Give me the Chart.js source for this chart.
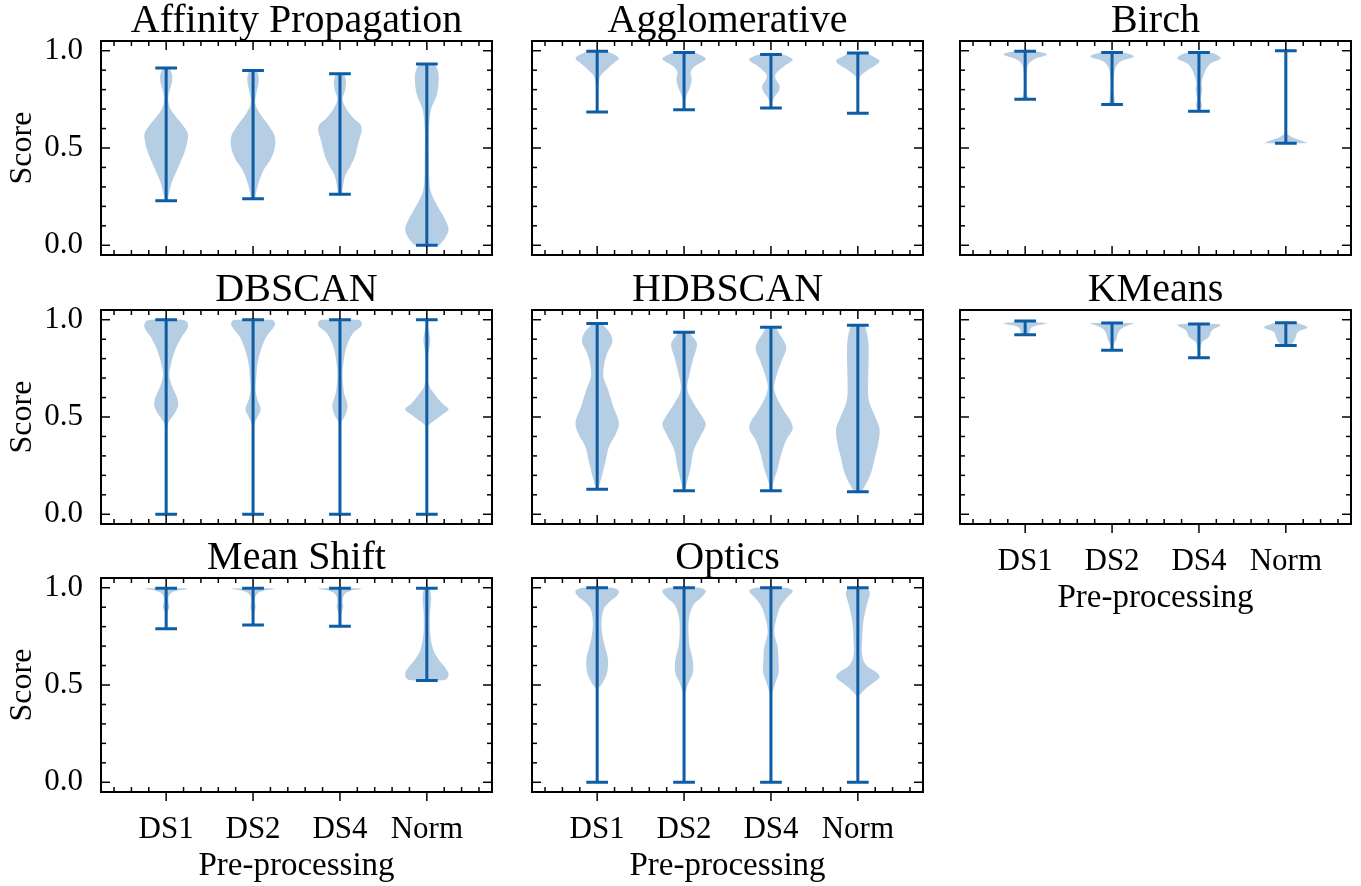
<!DOCTYPE html>
<html>
<head>
<meta charset="utf-8">
<script src="https://cdn.jsdelivr.net/npm/chart.js@4.4.1/dist/chart.umd.min.js"></script>
<style>
  html, body { margin: 0; padding: 0; background: #fff; }
  #fig { position: relative; width: 1361px; height: 886px; overflow: hidden; }
  #fig canvas { position: absolute; }
</style>
</head>
<body>
<div id="fig"></div>
<script>
// categories / ticks
const methods = ['Affinity Propagation', 'Agglomerative', 'Birch', 'DBSCAN', 'HDBSCAN', 'KMeans', 'Mean Shift', 'Optics'];
const categories = ['DS1', 'DS2', 'DS4', 'Norm'];
const positions = [1, 2, 3, 4];
const yTicks = [0, 0.5, 1.0];
const yTickLabels = ['0.0', '0.5', '1.0'];
const yMinorTicks = [0.1, 0.2, 0.3, 0.4, 0.6, 0.7, 0.8, 0.9];
const xMinorTicks = [0.4, 0.6, 0.8, 1.2, 1.4, 1.6, 1.8, 2.2, 2.4, 2.6, 2.8, 3.2, 3.4, 3.6, 3.8, 4.2, 4.4, 4.6];

// per method: whisker min / max, and violin outline as [score, relative width]
const affinityMin = [0.229, 0.239, 0.262, 0.0];
const affinityMax = [0.911, 0.899, 0.882, 0.932];
const affinityShapes = [
  [[0.229, 0.06], [0.26, 0.12], [0.32, 0.25], [0.40, 0.55], [0.48, 0.85], [0.55, 1.0], [0.58, 0.98], [0.62, 0.75], [0.66, 0.45], [0.70, 0.2], [0.74, 0.1], [0.78, 0.12], [0.83, 0.25], [0.87, 0.28], [0.90, 0.2], [0.911, 0.12]],
  [[0.239, 0.08], [0.25, 0.1], [0.32, 0.25], [0.39, 0.5], [0.44, 0.8], [0.50, 1.0], [0.56, 1.0], [0.61, 0.75], [0.68, 0.3], [0.73, 0.1], [0.78, 0.15], [0.83, 0.25], [0.87, 0.25], [0.899, 0.15]],
  [[0.262, 0.08], [0.29, 0.12], [0.36, 0.25], [0.41, 0.5], [0.46, 0.7], [0.53, 0.85], [0.59, 1.0], [0.62, 0.95], [0.65, 0.65], [0.70, 0.3], [0.75, 0.12], [0.79, 0.22], [0.83, 0.28], [0.86, 0.25], [0.882, 0.15]],
  [[0.0, 0.55], [0.03, 0.8], [0.08, 1.0], [0.13, 0.85], [0.2, 0.5], [0.27, 0.2], [0.33, 0.12], [0.45, 0.1], [0.6, 0.1], [0.70, 0.2], [0.77, 0.45], [0.85, 0.55], [0.90, 0.5], [0.932, 0.3]]
];

const agglomMin = [0.685, 0.697, 0.706, 0.679];
const agglomMax = [0.997, 0.991, 0.980, 0.988];
const agglomShapes = [
  [[0.685, 0.03], [0.80, 0.03], [0.84, 0.08], [0.87, 0.15], [0.90, 0.4], [0.93, 0.7], [0.962, 1.0], [0.99, 0.6], [0.997, 0.4]],
  [[0.697, 0.03], [0.75, 0.05], [0.78, 0.15], [0.82, 0.3], [0.86, 0.35], [0.89, 0.3], [0.92, 0.5], [0.957, 1.0], [0.98, 0.7], [0.991, 0.45]],
  [[0.706, 0.04], [0.73, 0.06], [0.76, 0.15], [0.79, 0.35], [0.82, 0.4], [0.86, 0.2], [0.885, 0.25], [0.92, 0.6], [0.954, 1.0], [0.975, 0.7], [0.98, 0.5]],
  [[0.679, 0.02], [0.80, 0.02], [0.84, 0.05], [0.87, 0.12], [0.90, 0.45], [0.945, 1.0], [0.97, 0.7], [0.988, 0.35]]
];

const birchMin = [0.750, 0.723, 0.689, 0.525];
const birchMax = [0.997, 0.991, 0.991, 1.0];
const birchShapes = [
  [[0.75, 0.2], [0.77, 0.1], [0.80, 0.06], [0.85, 0.06], [0.885, 0.07], [0.93, 0.15], [0.955, 0.4], [0.98, 1.0], [0.997, 0.45]],
  [[0.723, 0.15], [0.75, 0.12], [0.80, 0.06], [0.85, 0.08], [0.91, 0.15], [0.945, 0.4], [0.97, 1.0], [0.991, 0.5]],
  [[0.689, 0.05], [0.72, 0.14], [0.75, 0.08], [0.80, 0.15], [0.83, 0.12], [0.885, 0.25], [0.93, 0.5], [0.962, 1.0], [0.991, 0.5]],
  [[0.525, 1.0], [0.535, 0.8], [0.55, 0.4], [0.565, 0.15], [0.58, 0.04], [0.65, 0.01], [1.0, 0.01]]
];

const dbscanMin = [0.0, 0.0, 0.0, 0.0];
const dbscanMax = [1.0, 1.0, 1.0, 1.0];
const dbscanShapes = [
  [[0.0, 0.0], [0.40, 0.0], [0.43, 0.03], [0.47, 0.1], [0.52, 0.4], [0.56, 0.55], [0.60, 0.5], [0.65, 0.3], [0.71, 0.15], [0.76, 0.2], [0.84, 0.4], [0.91, 0.7], [0.96, 1.0], [0.99, 0.95], [1.0, 0.7]],
  [[0.0, 0.0], [0.42, 0.0], [0.46, 0.05], [0.50, 0.2], [0.54, 0.35], [0.59, 0.2], [0.64, 0.12], [0.71, 0.15], [0.77, 0.2], [0.84, 0.35], [0.91, 0.6], [0.97, 1.0], [0.995, 0.95], [1.0, 0.7]],
  [[0.0, 0.0], [0.42, 0.0], [0.47, 0.05], [0.51, 0.25], [0.56, 0.35], [0.62, 0.2], [0.70, 0.12], [0.77, 0.15], [0.86, 0.3], [0.93, 0.6], [0.97, 1.0], [0.995, 0.95], [1.0, 0.7]],
  [[0.0, 0.0], [0.44, 0.0], [0.465, 0.15], [0.49, 0.45], [0.515, 0.75], [0.54, 1.0], [0.565, 0.75], [0.59, 0.55], [0.62, 0.35], [0.65, 0.15], [0.70, 0.04], [0.80, 0.04], [0.86, 0.12], [0.90, 0.16], [0.94, 0.1], [0.97, 0.03], [1.0, 0.02]]
];

const hdbscanMin = [0.128, 0.121, 0.121, 0.116];
const hdbscanMax = [0.980, 0.935, 0.961, 0.971];
const hdbscanShapes = [
  [[0.128, 0.05], [0.14, 0.08], [0.21, 0.25], [0.28, 0.4], [0.35, 0.55], [0.41, 0.85], [0.47, 1.0], [0.55, 0.75], [0.64, 0.5], [0.70, 0.3], [0.755, 0.3], [0.825, 0.45], [0.885, 0.7], [0.93, 0.6], [0.97, 0.3], [0.98, 0.2]],
  [[0.121, 0.05], [0.17, 0.15], [0.24, 0.3], [0.33, 0.45], [0.40, 0.75], [0.46, 1.0], [0.50, 0.85], [0.57, 0.45], [0.64, 0.15], [0.72, 0.25], [0.81, 0.45], [0.875, 0.6], [0.92, 0.35], [0.935, 0.25]],
  [[0.121, 0.05], [0.16, 0.1], [0.23, 0.3], [0.32, 0.5], [0.38, 0.7], [0.45, 1.0], [0.55, 0.5], [0.64, 0.15], [0.71, 0.25], [0.79, 0.5], [0.86, 0.7], [0.945, 0.3], [0.961, 0.2]],
  [[0.116, 0.15], [0.14, 0.3], [0.21, 0.6], [0.30, 0.8], [0.37, 0.95], [0.44, 1.0], [0.50, 0.8], [0.59, 0.5], [0.71, 0.48], [0.81, 0.5], [0.89, 0.48], [0.96, 0.35], [0.971, 0.25]]
];

const kmeansMin = [0.923, 0.843, 0.805, 0.868];
const kmeansMax = [0.993, 0.983, 0.978, 0.985];
const kmeansShapes = [
  [[0.923, 0.15], [0.937, 0.2], [0.954, 0.25], [0.966, 0.4], [0.98, 1.0], [0.988, 0.5], [0.993, 0.3]],
  [[0.843, 0.05], [0.87, 0.08], [0.90, 0.2], [0.937, 0.3], [0.962, 0.55], [0.98, 1.0], [0.983, 0.9]],
  [[0.805, 0.03], [0.84, 0.05], [0.885, 0.15], [0.91, 0.45], [0.945, 0.6], [0.971, 1.0], [0.978, 0.8]],
  [[0.868, 0.2], [0.885, 0.35], [0.91, 0.45], [0.937, 0.55], [0.96, 1.0], [0.98, 0.6], [0.985, 0.4]]
];

const meanShiftMin = [0.789, 0.808, 0.802, 0.523];
const meanShiftMax = [0.997, 0.997, 0.997, 0.997];
const meanShiftShapes = [
  [[0.789, 0.03], [0.87, 0.05], [0.90, 0.15], [0.94, 0.1], [0.97, 0.2], [0.985, 0.5], [0.993, 1.0], [0.997, 0.8]],
  [[0.808, 0.02], [0.86, 0.04], [0.90, 0.12], [0.94, 0.08], [0.97, 0.2], [0.985, 0.5], [0.993, 1.0], [0.997, 0.8]],
  [[0.802, 0.03], [0.86, 0.05], [0.90, 0.15], [0.93, 0.12], [0.965, 0.2], [0.985, 0.5], [0.993, 1.0], [0.997, 0.8]],
  [[0.523, 0.6], [0.53, 0.9], [0.555, 1.0], [0.59, 0.85], [0.63, 0.55], [0.68, 0.3], [0.77, 0.15], [0.87, 0.15], [0.95, 0.2], [0.99, 0.15], [0.997, 0.1]]
];

const opticsMin = [0.0, 0.0, 0.0, 0.0];
const opticsMax = [1.0, 1.0, 1.0, 1.0];
const opticsShapes = [
  [[0.0, 0.0], [0.46, 0.0], [0.48, 0.05], [0.51, 0.25], [0.56, 0.45], [0.63, 0.5], [0.70, 0.35], [0.75, 0.25], [0.82, 0.2], [0.89, 0.3], [0.93, 0.6], [0.957, 0.9], [0.983, 1.0], [1.0, 0.7]],
  [[0.0, 0.0], [0.43, 0.0], [0.455, 0.05], [0.51, 0.2], [0.56, 0.4], [0.63, 0.4], [0.70, 0.25], [0.79, 0.2], [0.855, 0.25], [0.915, 0.45], [0.95, 0.8], [0.983, 1.0], [1.0, 0.7]],
  [[0.0, 0.0], [0.43, 0.0], [0.455, 0.05], [0.51, 0.2], [0.56, 0.35], [0.63, 0.35], [0.70, 0.3], [0.77, 0.15], [0.84, 0.25], [0.906, 0.45], [0.95, 0.75], [0.983, 1.0], [1.0, 0.7]],
  [[0.0, 0.0], [0.43, 0.0], [0.45, 0.1], [0.48, 0.35], [0.51, 0.7], [0.54, 1.0], [0.565, 0.85], [0.60, 0.4], [0.65, 0.2], [0.735, 0.2], [0.82, 0.25], [0.906, 0.4], [0.966, 0.55], [0.99, 0.5], [1.0, 0.35]]
];

const panelMins = [affinityMin, agglomMin, birchMin, dbscanMin, hdbscanMin, kmeansMin, meanShiftMin, opticsMin];
const panelMaxs = [affinityMax, agglomMax, birchMax, dbscanMax, hdbscanMax, kmeansMax, meanShiftMax, opticsMax];
const panelShapes = [affinityShapes, agglomShapes, birchShapes, dbscanShapes, hdbscanShapes, kmeansShapes, meanShiftShapes, opticsShapes];

const blue = '#0C5DA5';
const bodyColor = 'rgba(12, 93, 165, 0.3)';
const halfWidth = 0.25;   // violin widths 0.5
const capHalf = 0.125;
const majorLen = 9, minorLen = 5;

Chart.defaults.font.family = '"Liberation Serif", "DejaVu Serif", serif';
Chart.defaults.color = '#000';

// inward ticks on all sides + frame, like the scienceplots style
const frameTicks = {
  id: 'frameTicks',
  afterDraw(chart, args, opts) {
    const {ctx, chartArea: a, scales: {x, y}} = chart;
    const line = (x1, y1, x2, y2) => { ctx.beginPath(); ctx.moveTo(x1, y1); ctx.lineTo(x2, y2); ctx.stroke(); };
    ctx.save();
    ctx.strokeStyle = '#000';
    ctx.lineWidth = 1.5;
    yTicks.forEach(v => {
      const py = y.getPixelForValue(v);
      line(a.left, py, a.left + majorLen, py);
      line(a.right, py, a.right - majorLen, py);
    });
    yMinorTicks.forEach(v => {
      const py = y.getPixelForValue(v);
      line(a.left, py, a.left + minorLen, py);
      line(a.right, py, a.right - minorLen, py);
    });
    positions.forEach(v => {
      const px = x.getPixelForValue(v);
      if (opts.majorOut) line(px, a.bottom, px, a.bottom + majorLen);
      else line(px, a.bottom, px, a.bottom - majorLen);
      if (opts.top) line(px, a.top, px, a.top + majorLen);
    });
    xMinorTicks.forEach(v => {
      const px = x.getPixelForValue(v);
      line(px, a.bottom, px, a.bottom - minorLen);
      if (opts.top) line(px, a.top, px, a.top + minorLen);
    });
    ctx.lineWidth = 2;
    ctx.strokeRect(a.left, a.top, a.right - a.left, a.bottom - a.top);
    ctx.restore();
  }
};

const fig = document.getElementById('fig');
const canvasLeft = [0, 431, 859];
const canvasTop = [0, 269, 537];

methods.forEach((name, i) => {
  const col = i % 3, row = Math.floor(i / 3);
  const showX = row === 2 || name === 'KMeans';
  const showY = col === 0;
  const canvas = document.createElement('canvas');
  canvas.width = 501;
  canvas.height = 347;
  canvas.style.left = canvasLeft[col] + 'px';
  canvas.style.top = canvasTop[row] + 'px';
  fig.appendChild(canvas);

  const mins = panelMins[i], maxs = panelMaxs[i], shapes = panelShapes[i];

  const violins = shapes.map((s, k) => ({
    data: s.map(([v, w]) => ({x: positions[k] - halfWidth * w, y: v}))
      .concat(s.slice().reverse().map(([v, w]) => ({x: positions[k] + halfWidth * w, y: v}))),
    showLine: true,
    fill: 'shape',
    backgroundColor: bodyColor,
    borderColor: 'transparent',
    borderWidth: 0,
    pointRadius: 0,
    tension: 0.35,
    order: 1
  }));

  const whiskerPts = [];
  positions.forEach((p, k) => {
    whiskerPts.push(
      {x: p, y: mins[k]}, {x: p, y: maxs[k]}, {x: p, y: null},
      {x: p - capHalf, y: mins[k]}, {x: p + capHalf, y: mins[k]}, {x: p, y: null},
      {x: p - capHalf, y: maxs[k]}, {x: p + capHalf, y: maxs[k]}, {x: p, y: null}
    );
  });

  new Chart(canvas, {
    type: 'scatter',
    data: {
      datasets: [{
        data: whiskerPts,
        showLine: true,
        borderColor: blue,
        borderWidth: 3,
        pointRadius: 0,
        tension: 0,
        fill: false,
        order: 0
      }].concat(violins)
    },
    options: {
      responsive: false,
      animation: false,
      devicePixelRatio: 1,
      events: [],
      layout: {padding: {top: 0, right: 9, bottom: 0, left: 0}},
      plugins: {
        legend: {display: false},
        tooltip: {enabled: false},
        title: {
          display: true,
          text: name,
          fullSize: false,
          color: '#000',
          font: {size: 40, weight: 'normal', lineHeight: 1},
          padding: {top: 1, bottom: 0}
        },
        frameTicks: {top: name !== 'KMeans', majorOut: showX}
      },
      scales: {
        x: {
          type: 'linear',
          min: 0.25,
          max: 4.75,
          grid: {display: false},
          border: {display: false},
          afterBuildTicks: s => { s.ticks = positions.map(v => ({value: v})); },
          afterFit: s => { s.height = 92; },
          ticks: {
            display: showX,
            autoSkip: false,
            maxRotation: 0,
            padding: 11,
            font: {size: 31},
            color: '#000',
            callback: (v, idx) => categories[idx]
          },
          title: {
            display: showX,
            text: 'Pre-processing',
            color: '#000',
            font: {size: 33, lineHeight: 1.1},
            padding: {top: 0, bottom: 0}
          }
        },
        y: {
          type: 'linear',
          min: -0.05,
          max: 1.05,
          grid: {display: false},
          border: {display: false},
          afterBuildTicks: s => { s.ticks = yTicks.map(v => ({value: v})); },
          afterFit: s => { s.width = 101; },
          ticks: {
            display: showY,
            padding: 10,
            font: {size: 31},
            color: '#000',
            callback: (v, idx) => yTickLabels[idx]
          },
          title: {
            display: showY,
            text: 'Score',
            color: '#000',
            font: {size: 32, lineHeight: 1.1},
            padding: {top: 5, bottom: 0}
          }
        }
      }
    },
    plugins: [frameTicks]
  });
});
</script>
</body>
</html>
